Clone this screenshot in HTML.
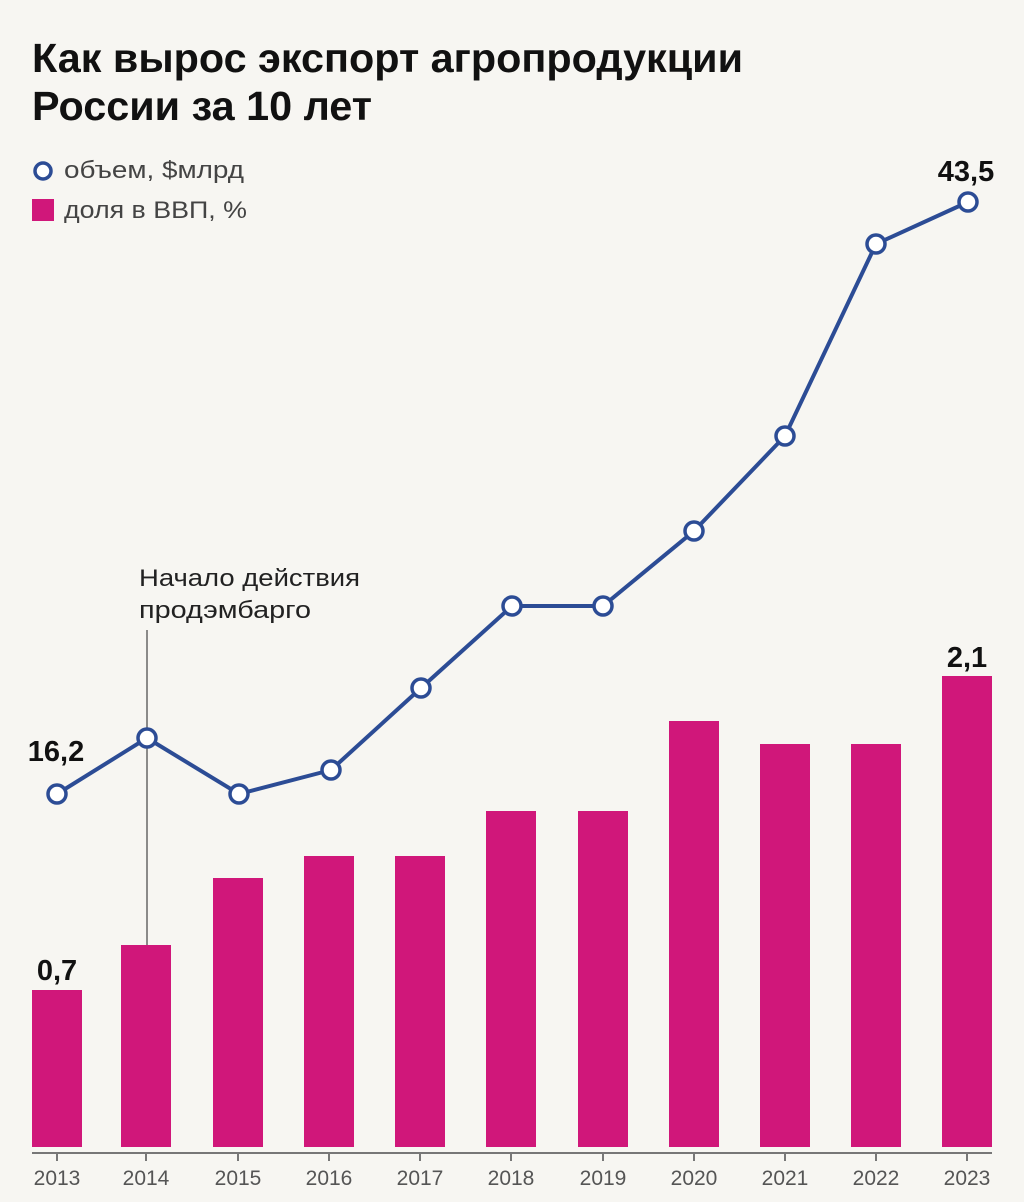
<!DOCTYPE html>
<html><head><meta charset="utf-8"><style>
body{margin:0;background:#f7f6f2;}
svg{display:block;font-family:"Liberation Sans",sans-serif;}
</style></head><body>
<svg width="1024" height="1202" viewBox="0 0 1024 1202">
<rect width="1024" height="1202" fill="#f7f6f2"/>
<text x="32" y="72" font-size="41" font-weight="bold" fill="#111" textLength="711" lengthAdjust="spacingAndGlyphs">Как вырос экспорт агропродукции</text>
<text x="32" y="120" font-size="41" font-weight="bold" fill="#111" textLength="340" lengthAdjust="spacingAndGlyphs">России за 10 лет</text>
<circle cx="43" cy="171" r="8" fill="#fff" stroke="#2c4c95" stroke-width="3.5"/>
<text x="64" y="178" font-size="24" fill="#444" textLength="180" lengthAdjust="spacingAndGlyphs">объем, $млрд</text>
<rect x="32" y="199" width="22" height="22" fill="#d0177a"/>
<text x="64" y="218" font-size="24" fill="#444" textLength="183" lengthAdjust="spacingAndGlyphs">доля в ВВП, %</text>
<g fill="#d0177a">
<rect x="32" y="990" width="50" height="157"/>
<rect x="121" y="945" width="50" height="202"/>
<rect x="213" y="878" width="50" height="269"/>
<rect x="304" y="856" width="50" height="291"/>
<rect x="395" y="856" width="50" height="291"/>
<rect x="486" y="811" width="50" height="336"/>
<rect x="578" y="811" width="50" height="336"/>
<rect x="669" y="721" width="50" height="426"/>
<rect x="760" y="744" width="50" height="403"/>
<rect x="851" y="744" width="50" height="403"/>
<rect x="942" y="676" width="50" height="471"/>
</g>
<line x1="32" y1="1153" x2="992" y2="1153" stroke="#777" stroke-width="2"/>
<g stroke="#777" stroke-width="2">
<line x1="57" y1="1153" x2="57" y2="1161"/><line x1="146" y1="1153" x2="146" y2="1161"/><line x1="238" y1="1153" x2="238" y2="1161"/><line x1="329" y1="1153" x2="329" y2="1161"/><line x1="420" y1="1153" x2="420" y2="1161"/><line x1="511" y1="1153" x2="511" y2="1161"/><line x1="603" y1="1153" x2="603" y2="1161"/><line x1="694" y1="1153" x2="694" y2="1161"/><line x1="785" y1="1153" x2="785" y2="1161"/><line x1="876" y1="1153" x2="876" y2="1161"/><line x1="967" y1="1153" x2="967" y2="1161"/>
</g>
<g font-size="21" fill="#555" text-anchor="middle">
<text x="57" y="1185">2013</text><text x="146" y="1185">2014</text><text x="238" y="1185">2015</text><text x="329" y="1185">2016</text><text x="420" y="1185">2017</text><text x="511" y="1185">2018</text><text x="603" y="1185">2019</text><text x="694" y="1185">2020</text><text x="785" y="1185">2021</text><text x="876" y="1185">2022</text><text x="967" y="1185">2023</text>
</g>
<line x1="147" y1="630" x2="147" y2="945" stroke="#444" stroke-width="1.2"/>
<text x="139" y="586" font-size="24" fill="#222" textLength="221" lengthAdjust="spacingAndGlyphs">Начало действия</text>
<text x="139" y="618" font-size="24" fill="#222" textLength="172" lengthAdjust="spacingAndGlyphs">продэмбарго</text>
<polyline points="57,794 147,738 239,794 331,770 421,688 512,606 603,606 694,531 785,436 876,244 968,202" fill="none" stroke="#2c4c95" stroke-width="4"/>
<g fill="#fff" stroke="#2c4c95" stroke-width="3.5">
<circle cx="57" cy="794" r="9"/><circle cx="147" cy="738" r="9"/><circle cx="239" cy="794" r="9"/><circle cx="331" cy="770" r="9"/><circle cx="421" cy="688" r="9"/><circle cx="512" cy="606" r="9"/><circle cx="603" cy="606" r="9"/><circle cx="694" cy="531" r="9"/><circle cx="785" cy="436" r="9"/><circle cx="876" cy="244" r="9"/><circle cx="968" cy="202" r="9"/>
</g>
<g font-size="29" font-weight="bold" fill="#111" text-anchor="middle">
<text x="56" y="761">16,2</text>
<text x="966" y="181">43,5</text>
<text x="57" y="980">0,7</text>
<text x="967" y="667">2,1</text>
</g>
</svg>
</body></html>
